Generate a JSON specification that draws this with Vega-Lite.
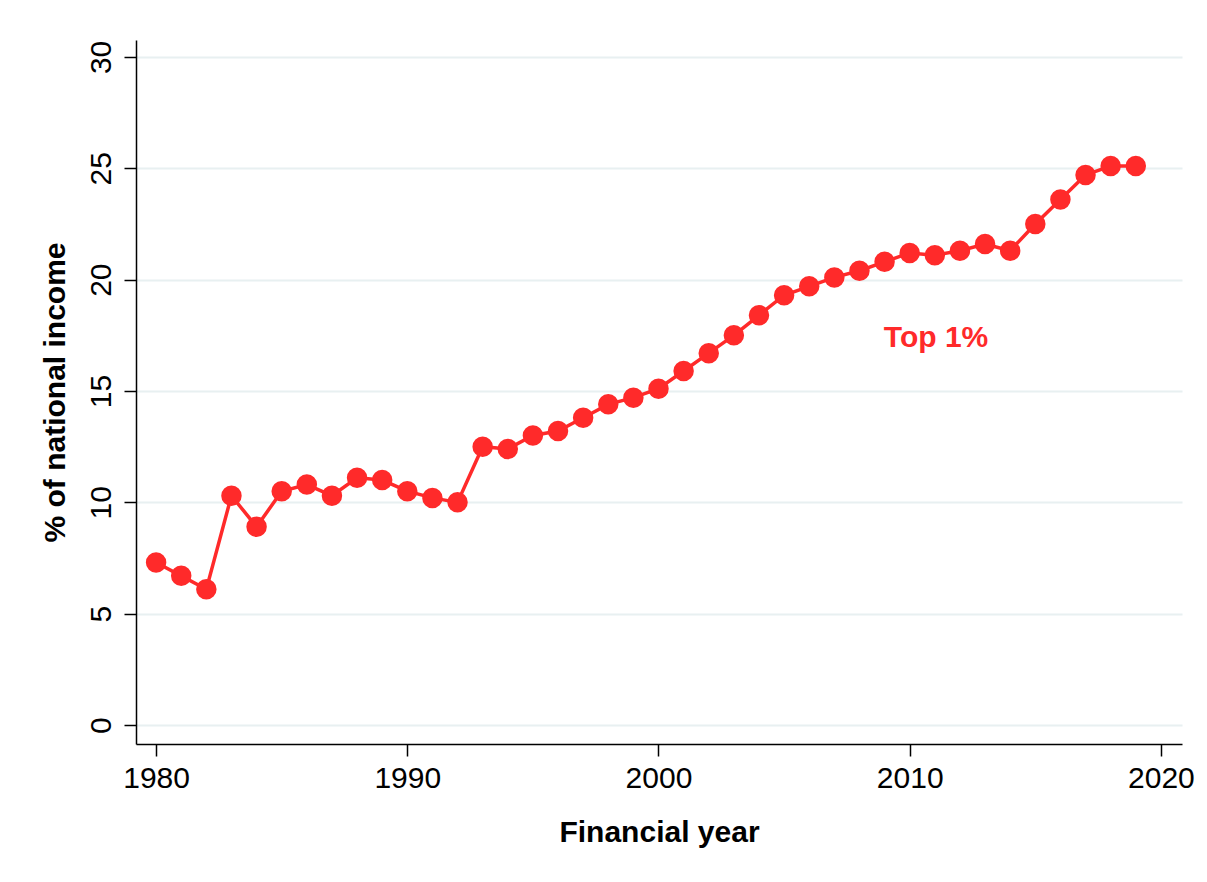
{
  "$schema": "https://vega.github.io/schema/vega-lite/v6.json",
  "width": 1046,
  "height": 704,
  "padding": {"left": 136, "top": 40, "right": 25, "bottom": 138},
  "autosize": {"type": "none"},
  "background": "white",
  "config": {
    "view": {"stroke": null},
    "font": "Liberation Sans"
  },
  "datasets": {
    "series": [
      {"year": 1980, "share": 7.3}, {"year": 1981, "share": 6.7}, {"year": 1982, "share": 6.1},
      {"year": 1983, "share": 10.3}, {"year": 1984, "share": 8.9}, {"year": 1985, "share": 10.5},
      {"year": 1986, "share": 10.8}, {"year": 1987, "share": 10.3}, {"year": 1988, "share": 11.1},
      {"year": 1989, "share": 11.0}, {"year": 1990, "share": 10.5}, {"year": 1991, "share": 10.2},
      {"year": 1992, "share": 10.0}, {"year": 1993, "share": 12.5}, {"year": 1994, "share": 12.4},
      {"year": 1995, "share": 13.0}, {"year": 1996, "share": 13.2}, {"year": 1997, "share": 13.8},
      {"year": 1998, "share": 14.4}, {"year": 1999, "share": 14.7}, {"year": 2000, "share": 15.1},
      {"year": 2001, "share": 15.9}, {"year": 2002, "share": 16.7}, {"year": 2003, "share": 17.5},
      {"year": 2004, "share": 18.4}, {"year": 2005, "share": 19.3}, {"year": 2006, "share": 19.7},
      {"year": 2007, "share": 20.1}, {"year": 2008, "share": 20.4}, {"year": 2009, "share": 20.8},
      {"year": 2010, "share": 21.2}, {"year": 2011, "share": 21.1}, {"year": 2012, "share": 21.3},
      {"year": 2013, "share": 21.6}, {"year": 2014, "share": 21.3}, {"year": 2015, "share": 22.5},
      {"year": 2016, "share": 23.6}, {"year": 2017, "share": 24.7}, {"year": 2018, "share": 25.1},
      {"year": 2019, "share": 25.1}
    ],
    "labels": [{"year": 2011.05, "share": 17.4, "label": "Top 1%"}]
  },
  "encoding": {
    "x": {
      "field": "year", "type": "quantitative",
      "scale": {"domain": [1979.2, 2020.84], "nice": false, "zero": false},
      "axis": {
        "title": "Financial year", "values": [1980, 1990, 2000, 2010, 2020], "format": "d",
        "grid": false, "domainColor": "#000000", "domainWidth": 1.5, "tickColor": "#000000", "tickWidth": 1.5,
        "tickSize": 12, "labelFontSize": 30, "labelColor": "#000000", "labelPadding": 7,
        "titleFontSize": 30, "titleFontWeight": "bold", "titleColor": "#000000", "titlePadding": 24
      }
    },
    "y": {
      "field": "share", "type": "quantitative",
      "scale": {"domain": [-0.85, 30.76], "nice": false, "zero": false},
      "axis": {
        "title": "% of national income", "values": [0, 5, 10, 15, 20, 25, 30],
        "grid": true, "gridColor": "#e8f0f1", "gridWidth": 2,
        "domainColor": "#000000", "domainWidth": 1.5, "tickColor": "#000000", "tickWidth": 1.5,
        "tickSize": 12, "labelFontSize": 30, "labelColor": "#000000", "labelAngle": -90,
        "labelAlign": "center", "labelBaseline": "bottom", "labelPadding": 8,
        "titleFontSize": 30, "titleFontWeight": "bold", "titleColor": "#000000", "titlePadding": 16
      }
    }
  },
  "layer": [
    {
      "data": {"name": "series"},
      "mark": {"type": "line", "color": "#ff2a2a", "strokeWidth": 3.5},
      "encoding": {}
    },
    {
      "data": {"name": "series"},
      "mark": {"type": "circle", "color": "#ff2a2a", "opacity": 1, "size": 420},
      "encoding": {}
    },
    {
      "data": {"name": "labels"},
      "mark": {"type": "text", "color": "#ff2a2a", "fontSize": 30, "fontWeight": "bold", "align": "center", "baseline": "middle"},
      "encoding": {"text": {"field": "label"}}
    }
  ]
}
